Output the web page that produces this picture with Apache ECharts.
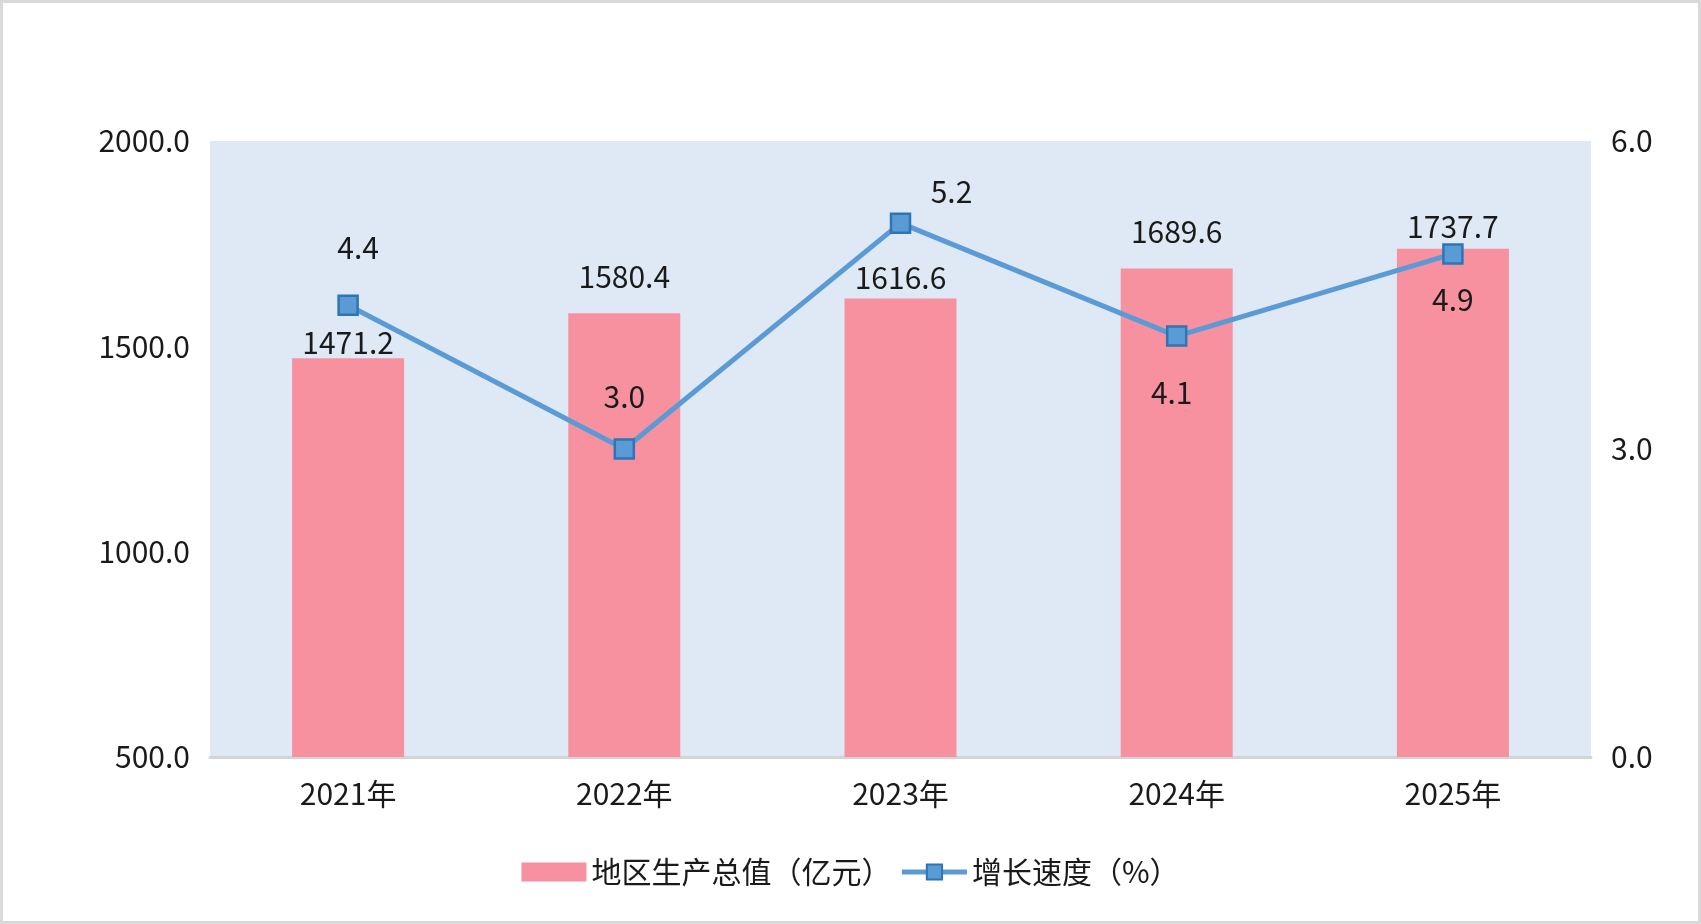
<!DOCTYPE html>
<html>
<head>
<meta charset="utf-8">
<script src="https://cdn.jsdelivr.net/npm/echarts@6/dist/echarts.min.js"></script>
<style>
  html, body { margin: 0; padding: 0; background: #fff; }
  #main { width: 1701px; height: 924px; box-sizing: border-box; border: 3px solid #d9d9d9; }
</style>
</head>
<body>
<div id="main"></div>
<script>
// data
var years = ['2021年', '2022年', '2023年', '2024年', '2025年'];
var gdpValues = [1471.2, 1580.4, 1616.6, 1689.6, 1737.7];
var growthRates = [4.4, 3.0, 5.2, 4.1, 4.9];
var leftTicks = [500, 2000, 500];   // min, max, interval
var rightTicks = [0, 6, 3];

// label placement tweaks (styles, kept apart from data)
var barLabelDist = [1, 22, 6, 22, 7];
var lineLabelOffset = [[10, -58], [0, -52], [51, -32], [-5, 57], [0, 46]];

var font = '"Noto Sans CJK SC", "Noto Sans", sans-serif';
var txt = '#1a1a1a';

var gdpChart = echarts.init(document.getElementById('main'));

var option = {
    backgroundColor: '#fff',
    textStyle: { fontFamily: font },
    grid: {
        left: 207, right: 107, top: 138, bottom: 164,
        show: true,
        backgroundColor: '#dee9f5',
        borderWidth: 0
    },
    legend: {
        left: 'center',
        top: 849,
        itemGap: 8,
        itemWidth: 65,
        itemHeight: 19,
        lineStyle: { width: 5 },
        textStyle: { color: txt, fontSize: 30, fontFamily: font },
        data: [
            { name: '地区生产总值（亿元）', icon: 'rect' },
            { name: '增长速度（%）' }
        ]
    },
    xAxis: {
        type: 'category',
        data: years,
        axisTick: { show: false },
        axisLine: { lineStyle: { color: '#d4d4d4', width: 3 } },
        axisLabel: { color: txt, fontSize: 30, margin: 22, fontFamily: font }
    },
    yAxis: [
        {
            type: 'value',
            min: leftTicks[0], max: leftTicks[1], interval: leftTicks[2],
            splitLine: { show: false },
            axisLine: { show: false },
            axisTick: { show: false },
            axisLabel: {
                color: txt, fontSize: 30, margin: 20, fontFamily: font,
                formatter: function (v) { return v.toFixed(1); }
            }
        },
        {
            type: 'value',
            min: rightTicks[0], max: rightTicks[1], interval: rightTicks[2],
            splitLine: { show: false },
            axisLine: { show: false },
            axisTick: { show: false },
            axisLabel: {
                color: txt, fontSize: 30, margin: 20, fontFamily: font,
                formatter: function (v) { return v.toFixed(1); }
            }
        }
    ],
    series: [
        {
            name: '地区生产总值（亿元）',
            type: 'bar',
            barWidth: 112,
            itemStyle: { color: '#f7919f' },
            data: gdpValues.map(function (v, i) {
                return { value: v, label: { distance: barLabelDist[i] } };
            }),
            label: {
                show: true,
                position: 'top',
                color: txt,
                fontSize: 30,
                fontFamily: font,
                formatter: function (p) { return p.value.toFixed(1); }
            }
        },
        {
            name: '增长速度（%）',
            type: 'line',
            yAxisIndex: 1,
            symbol: 'rect',
            symbolSize: 19,
            lineStyle: { color: '#5b9bd5', width: 5 },
            itemStyle: { color: '#5b9bd5', borderColor: '#2e75b6', borderWidth: 2.5 },
            data: growthRates.map(function (v, i) {
                return { value: v, label: { offset: lineLabelOffset[i] } };
            }),
            label: {
                show: true,
                position: 'inside',
                color: txt,
                fontSize: 30,
                fontFamily: font,
                formatter: function (p) { return p.value.toFixed(1); }
            },
            z: 3
        }
    ]
};

gdpChart.setOption(option);
</script>
</body>
</html>
